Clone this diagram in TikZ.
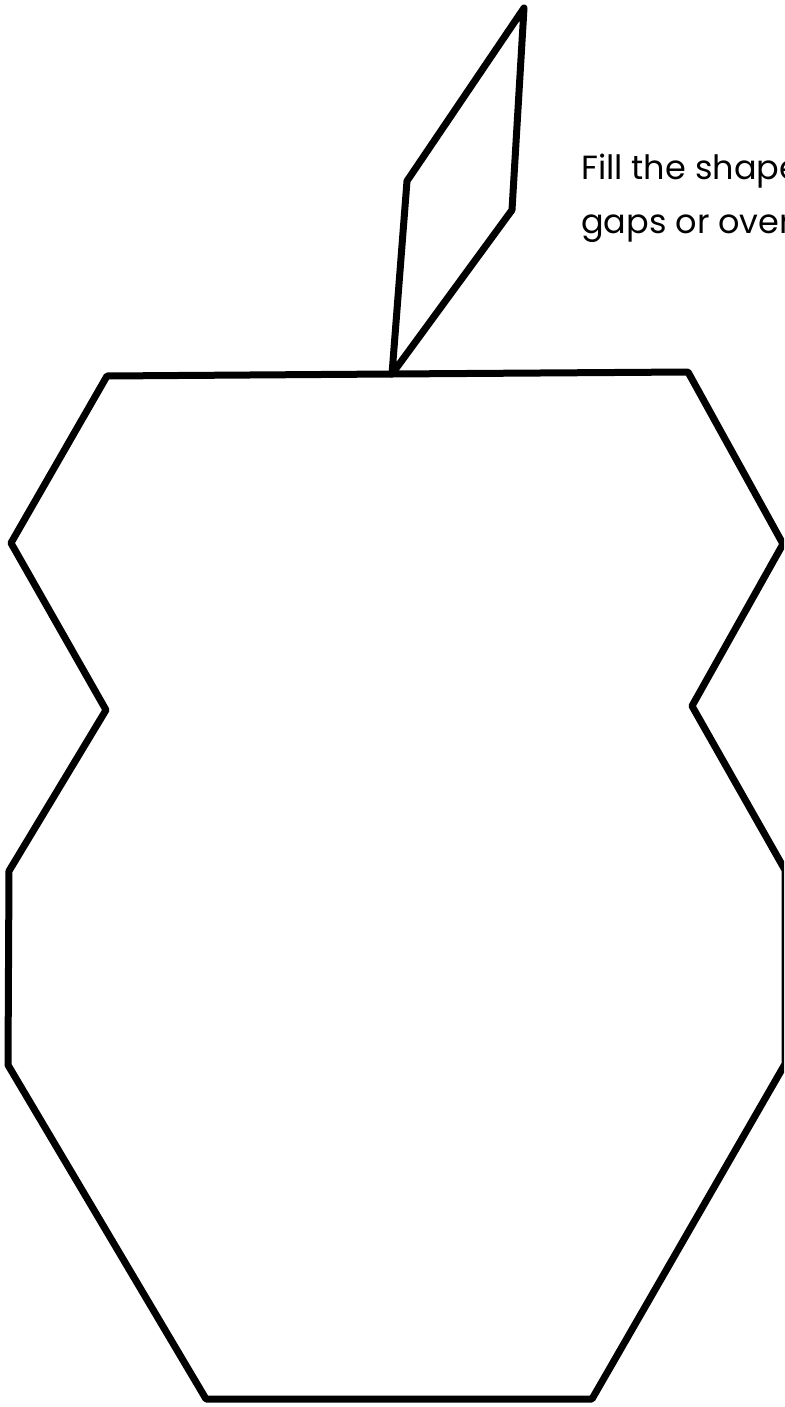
\documentclass[tikz,border=0pt]{standalone}
\usepackage{fontspec}
\setmainfont{Poppins}
\begin{document}
\begin{tikzpicture}[x=1pt,y=-1pt,
  outline/.style={draw=black,line width=7pt,line join=round,line cap=round},
  caption/.style={anchor=base west,inner sep=0pt,font=\fontsize{33.5}{33.5}\selectfont}]
\useasboundingbox (0,0) rectangle (784,1407);
\clip (0,0) rectangle (784,1407);
% apple body corners
\coordinate (tl) at (107,376);
\coordinate (st) at (392,374);
\coordinate (tr) at (688,372);
\coordinate (r1) at (783,544);
\coordinate (r2) at (692,706);
\coordinate (r3) at (785,870);
\coordinate (r4) at (785,1064);
\coordinate (br) at (592,1399);
\coordinate (bl) at (206,1399);
\coordinate (l4) at (8,1065);
\coordinate (l3) at (9,871);
\coordinate (l2) at (106,710);
\coordinate (l1) at (11,543);
\draw[outline] (tl) -- (st) -- (tr) -- (r1) -- (r2) -- (r3) -- (r4) -- (br) -- (bl) -- (l4) -- (l3) -- (l2) -- (l1) -- cycle;
% leaf
\coordinate (lt) at (524,8);
\coordinate (ll) at (407,181);
\coordinate (lr) at (512,210);
\draw[outline] (st) -- (ll) -- (lt) -- (lr) -- cycle;
% caption
\node[caption] (c1) at (581,179) {Fill the shape with no};
\node[caption] (c2) at (581,233) {gaps or overlaps.};
\end{tikzpicture}
\end{document}
